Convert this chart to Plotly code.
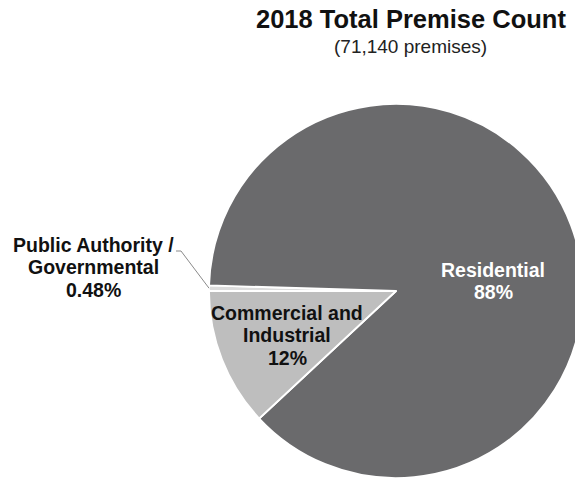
import numpy as np
import plotly.graph_objects as go

# Premise categories, in drawing order (clockwise from 9 o'clock)
categories = ["Public Authority /<br>Governmental", "Residential", "Commercial and<br>Industrial"]
shares = [0.48, 88, 12]          # percent of total premises
share_labels = ["0.48%", "88%", "12%"]
colors = ["#dcdcdc", "#6a6a6c", "#bebebe"]

title_text = "2018 Total Premise Count"
subtitle_text = "(71,140 premises)"

# Canvas is a little larger than the viewport so the pie runs off the right edge
W, H = 600, 500
cx_px, cy_px, r_px = 396, 291, 187

def px_to_paper(x, y):
    return x / W, 1 - y / H

dom_x = [(cx_px - r_px) / W, (cx_px + r_px) / W]
dom_y = [1 - (cy_px + r_px) / H, 1 - (cy_px - r_px) / H]

fig = go.Figure(
    go.Pie(
        labels=categories,
        values=shares,
        sort=False,
        direction="clockwise",
        rotation=-90,
        marker=dict(colors=colors, line=dict(color="white", width=1.8)),
        textinfo="none",
        hoverinfo="skip",
        showlegend=False,
        domain=dict(x=dom_x, y=dom_y),
    )
)

font = "Liberation Sans, Arial, sans-serif"

def centered_note(px, py, text, size, color):
    x, y = px_to_paper(px, py)
    fig.add_annotation(x=x, y=y, xref="paper", yref="paper", text=text,
                       xanchor="center", yanchor="middle", showarrow=False,
                       font=dict(family=font, size=size, color=color))

# Title block
centered_note(411, 19, f"<b>{title_text}</b>", 25.5, "#111111")
centered_note(410, 47, subtitle_text, 19, "#222222")

# Slice labels, one annotation per line for tight line spacing
label_pos = {0: (93, 267), 1: (493, 281), 2: (287, 335)}
label_color = {0: "#111111", 1: "#ffffff", 2: "#111111"}
line_gap = 22.5
for i, (cat, lab) in enumerate(zip(categories, share_labels)):
    lines = cat.split("<br>") + [lab]
    bx, by = label_pos[i]
    top = by - line_gap * (len(lines) - 1) / 2
    for k, line in enumerate(lines):
        centered_note(bx, top + k * line_gap, f"<b>{line}</b>", 19.5, label_color[i])

# Leader line from the small slice's rim to its outside label
total = float(np.sum(shares))
mid = np.deg2rad(-90 + shares[0] / total * 360 / 2)
ex = cx_px + r_px * np.sin(mid)
ey = cy_px - r_px * np.cos(mid)
p0 = px_to_paper(176, 251)
p1 = px_to_paper(181, 251)
p2 = px_to_paper(ex, ey)
fig.add_shape(type="path", xref="paper", yref="paper",
              path=f"M {p0[0]} {p0[1]} L {p1[0]} {p1[1]} L {p2[0]} {p2[1]}",
              line=dict(color="#8a8a8a", width=1))

fig.update_layout(
    width=W, height=H,
    margin=dict(l=0, r=0, t=0, b=0),
    paper_bgcolor="white",
    plot_bgcolor="white",
)

fig.write_html(
    "out.html",
    post_script="document.documentElement.style.overflow='hidden';document.body.style.overflow='hidden';",
)
